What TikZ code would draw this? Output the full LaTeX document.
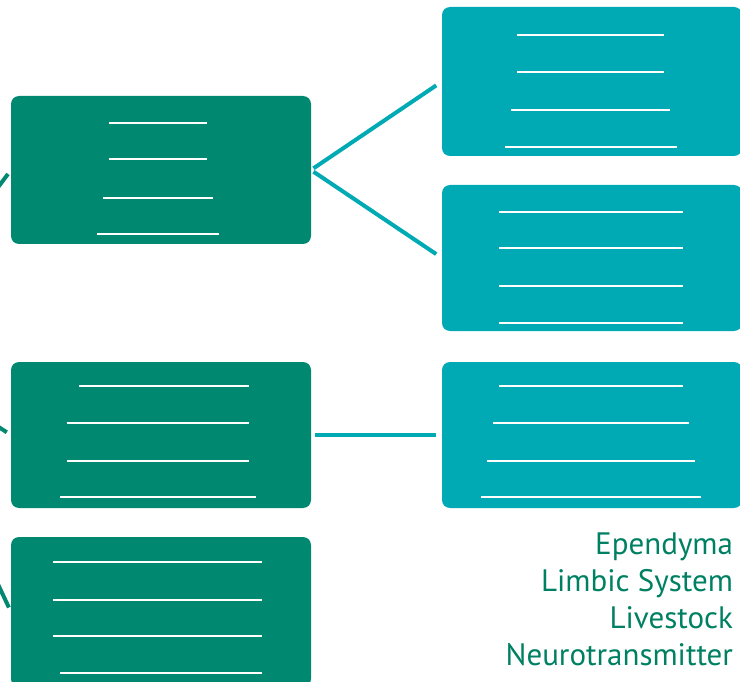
\documentclass[tikz,border=0pt]{standalone}
\usepackage{fontspec}
\usepackage{tikz}
\usetikzlibrary{shapes,arrows}
\newfontfamily\labelfont{PT Sans}
\definecolor{boxGreen}{RGB}{0,136,112}
\definecolor{boxTeal}{RGB}{0,170,181}
\definecolor{textGreen}{RGB}{0,128,98}

\begin{document}
\begin{tikzpicture}[x=1pt, y=-1pt]%
  \tikzset{link/.style={draw,line width=4pt,boxTeal},
           stub/.style={draw,line width=4pt,boxGreen,shorten >=5pt},
           blank/.style={draw,white,line width=2pt}}
  \tikzstyle{every node}=[draw=none, rectangle, rounded corners=8pt, minimum width=300pt, outer sep=0pt, inner sep=0pt]
  \useasboundingbox (0,0) rectangle (740,682);

  \node[fill=boxGreen, minimum height=148pt] at (161,170) (LA) {};
  \node[fill=boxGreen, minimum height=146pt] at (161,435) (LB) {};
  \node[fill=boxGreen, minimum height=150pt] at (161,612) (LC) {};
  \node[fill=boxTeal, minimum height=149pt] at (592,81.5) (RA) {};
  \node[fill=boxTeal, minimum height=146pt] at (592,258) (RB) {};
  \node[fill=boxTeal, minimum height=146pt] at (592,435) (RC) {};

  % blank lines
  \foreach \y/\a/\b in {123/109/207, 159/109/207, 198/103/213, 234/97/219,
                        386/79/249, 423/67/249, 461/67/249, 497/60/256,
                        562/53/262, 600/53/262, 636/53/262, 673/60/262,
                        35/517/664, 72/517/664, 110/511/670, 147/505/677,
                        212/499/683, 248/499/683, 286/499/683, 323/499/683,
                        386/499/683, 423/493/689, 461/487/695, 497/481/701}
    \path[blank] (\a,\y) -- (\b,\y);

  \path[link, shorten <=3pt, shorten >=7pt] (LA.east) -- (RA.west);
  \path[link, shorten <=3pt, shorten >=7pt] (LA.east) -- (RB.west);
  \path[link, shorten <=4pt, shorten >=6pt] (LB.east) -- (RC.west);

  % cut-off connectors on the left
  \coordinate (inA) at (-4,190);
  \coordinate (inB) at (-6,424);
  \coordinate (inC) at (-4,580);
  \path[stub] (inA) -- (LA.west);
  \path[stub] (inB) -- (LB.west);
  \path[stub] (inC) -- (LC.west);

  \node[text=textGreen, minimum width=0pt, anchor=north east, align=right,
        font=\labelfont\fontsize{31}{37}\selectfont] at (733,533) (terms)
    {Ependyma\\Limbic System\\Livestock\\Neurotransmitter};
\end{tikzpicture}
\end{document}
